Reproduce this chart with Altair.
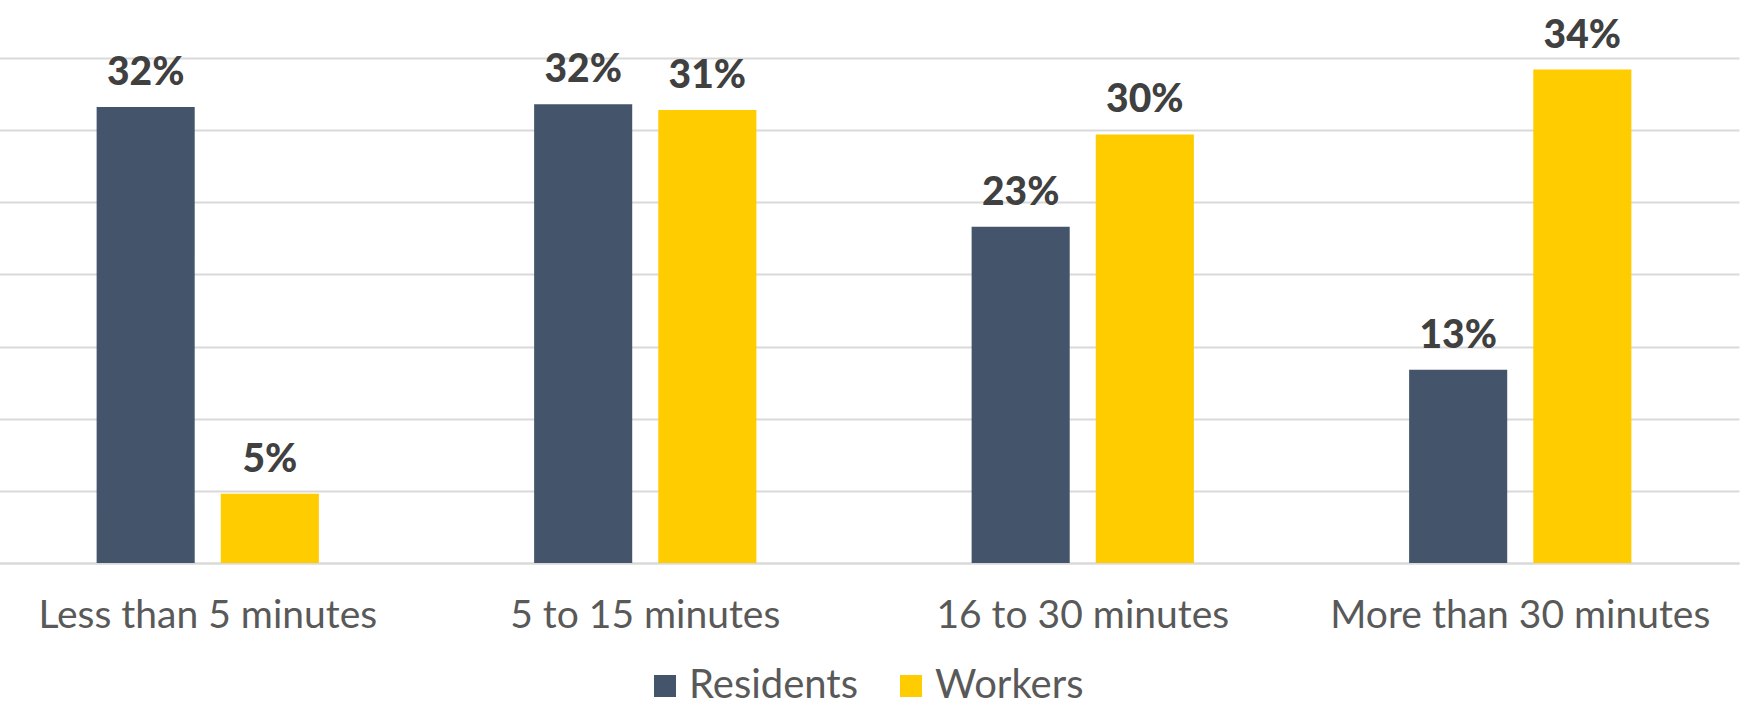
import altair as alt
import pandas as pd

# Commute time shares for residents and workers
categories = ["Less than 5 minutes", "5 to 15 minutes", "16 to 30 minutes", "More than 30 minutes"]
groups = ["Residents", "Workers"]
residents = [31.6, 31.8, 23.3, 13.4]
workers = [4.8, 31.4, 29.7, 34.2]
colors = ["#44546A", "#FFCC00"]
grid_values = [0, 5, 10, 15, 20, 25, 30, 35]

rows = []
for cat, r, w in zip(categories, residents, workers):
    rows.append({"category": cat, "group": groups[0], "share": r})
    rows.append({"category": cat, "group": groups[1], "share": w})
df = pd.DataFrame(rows)

FONT = "Lato"

base = alt.Chart(df).encode(
    x=alt.X(
        "category:N",
        sort=categories,
        scale=alt.Scale(paddingInner=0.492, paddingOuter=0.246),
        axis=alt.Axis(
            title=None,
            labelAngle=0,
            ticks=False,
            grid=False,
            domain=True,
            domainColor="#d9d9d9",
            domainWidth=2,
            labelFont=FONT,
            labelFontSize=39,
            labelColor="#595959",
            labelPadding=33,
            labelLimit=0,
        ),
    ),
    xOffset=alt.XOffset("group:N", sort=groups, scale=alt.Scale(paddingInner=0.21, paddingOuter=0)),
    y=alt.Y(
        "share:Q",
        scale=alt.Scale(domain=[0, 35], nice=False),
        axis=alt.Axis(
            title=None,
            values=grid_values,
            labels=False,
            ticks=False,
            domain=False,
            grid=True,
            gridColor="#d9d9d9",
            gridWidth=2,
        ),
    ),
)

bars = base.mark_bar().encode(
    color=alt.Color(
        "group:N",
        sort=groups,
        scale=alt.Scale(domain=groups, range=colors),
        legend=alt.Legend(
            title=None,
            orient="none",
            direction="horizontal",
            legendX=656,
            legendY=608,
            symbolType="square",
            symbolSize=484,
            symbolStrokeWidth=0,
            labelFont=FONT,
            labelFontSize=40,
            labelColor="#595959",
            labelOffset=4,
            labelLimit=0,
            columnPadding=32,
            padding=0,
        ),
    )
)

labels = base.mark_text(
    baseline="alphabetic",
    dy=-22,
    font=FONT,
    fontWeight=900,
    fontSize=39,
    color="#404040",
).encode(
    text=alt.Text("label:N")
).transform_calculate(
    label="format(datum.share, '.0f') + '%'"
)

chart = (
    alt.layer(bars, labels)
    .properties(
        width=1750,
        height=505,
        autosize=alt.AutoSizeParams(type="none"),
        padding={"left": -11, "top": 58, "right": 21, "bottom": 140},
        background="white",
    )
    .configure_view(stroke=None)
)

chart.save("out.html", embed_options={"renderer": "svg", "actions": False})
